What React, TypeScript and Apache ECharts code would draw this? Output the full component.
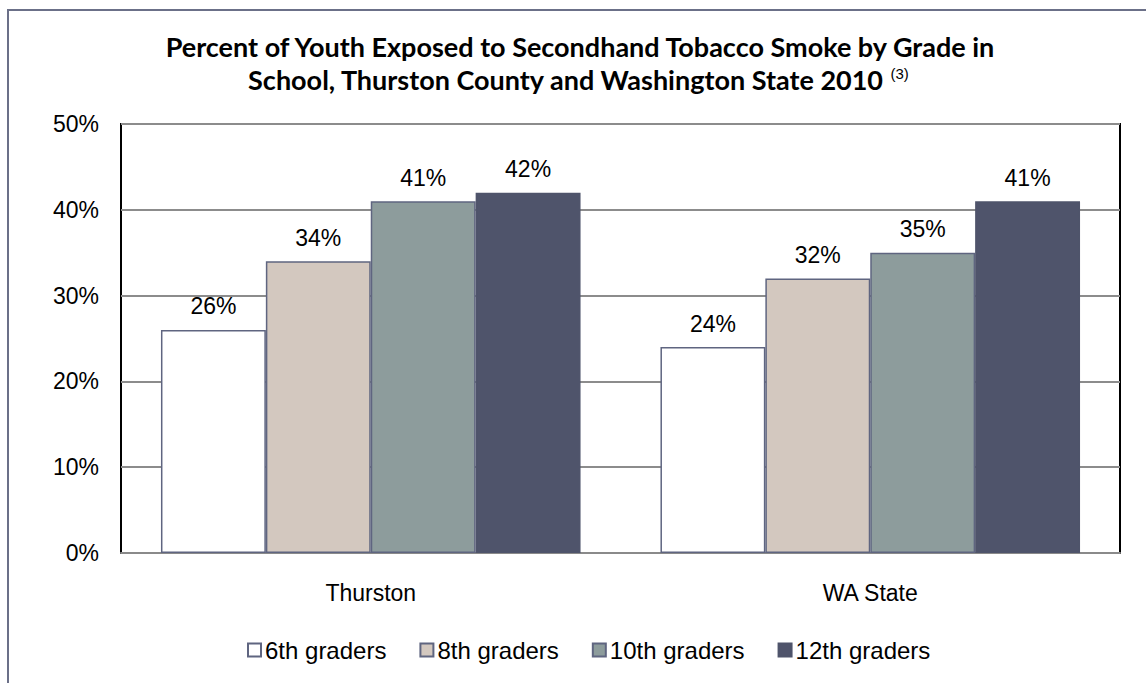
import React, { useEffect, useRef } from "react";
import * as echarts from "echarts";

const categories = ["Thurston", "WA State"];
const seriesNames = ["6th graders", "8th graders", "10th graders", "12th graders"];
const grade6 = [26, 24];
const grade8 = [34, 32];
const grade10 = [41, 35];
const grade12 = [42, 41];
const yTicks = { min: 0, max: 50, interval: 10 };
const titleLine1 = "Percent of Youth Exposed to Secondhand Tobacco Smoke by Grade in";
const titleLine2 = "School, Thurston County and Washington State 2010 ";
const titleRef = "(3)";

const colors = ["#ffffff", "#d3c8bf", "#8d9c9c", "#4f546b"];
const borderCol = "#5f6580";

export default function App() {
  const ref = useRef<HTMLDivElement>(null);
  useEffect(() => {
    if (!ref.current) return;
    const chart = echarts.init(ref.current, null, { renderer: "svg" });
    const values = [grade6, grade8, grade10, grade12];
    const font = "'Liberation Sans', Arial, sans-serif";
    chart.setOption({
      animation: false,
      backgroundColor: "#ffffff",
      graphic: [
        {
          type: "rect",
          shape: { x: 8, y: 10, width: 1200, height: 800 },
          style: { fill: "none", stroke: "#6b7088", lineWidth: 2 },
          silent: true,
        },
        {
          type: "text",
          x: 580,
          y: 46,
          style: {
            text: titleLine1,
            font: "bold 27px Lato, sans-serif",
            fill: "#000",
            textAlign: "center",
            textVerticalAlign: "middle",
          },
        },
        {
          type: "text",
          x: 578,
          y: 79,
          style: {
            text: "{b|" + titleLine2 + "}{s|" + titleRef + "}",
            textAlign: "center",
            textVerticalAlign: "middle",
            rich: {
              b: { fill: "#000", fontSize: 27, fontWeight: "bold", fontFamily: "Lato, sans-serif" },
              s: { fontSize: 15, fontFamily: font, fill: "#000", verticalAlign: "top", padding: [0, 0, 12, 0] },
            },
          },
        },
      ],
      grid: {
        left: 121,
        right: 26,
        top: 124,
        bottom: 130,
        show: true,
        borderColor: "#000",
        borderWidth: 2,
        containLabel: false,
      },
      legend: {
        data: seriesNames,
        bottom: 16,
        left: 242,
        itemWidth: 13,
        itemHeight: 13,
        itemGap: 33,
        icon: "rect",
        textStyle: { fontFamily: font, fontSize: 24, color: "#000", padding: [0, 0, 0, -1] },
      },
      xAxis: {
        type: "category",
        data: categories,
        axisLine: { show: true, lineStyle: { color: "#8a8a8a", width: 2 } },
        axisTick: { show: false },
        axisLabel: { fontFamily: font, fontSize: 23, color: "#000", margin: 28 },
      },
      yAxis: {
        type: "value",
        min: yTicks.min,
        max: yTicks.max,
        interval: yTicks.interval,
        axisLine: { show: false },
        axisTick: { show: false },
        axisLabel: { fontFamily: font, fontSize: 23, color: "#000", margin: 22, formatter: "{value}%" },
        splitLine: { show: true, lineStyle: { color: "#8c8c8c", width: 2 } },
      },
      series: seriesNames.map((name, i) => ({
        name,
        type: "bar",
        data: values[i],
        barGap: "0%",
        barCategoryGap: "16%",
        itemStyle: {
          color: colors[i],
          borderColor: i === 3 ? colors[3] : borderCol,
          borderWidth: 1.5,
        },
        label: {
          show: true,
          position: "top",
          distance: 12,
          formatter: "{c}%",
          fontFamily: font,
          fontSize: 23,
          color: "#000",
        },
      })),
    });
    return () => chart.dispose();
  }, []);
  return (
    <div
      ref={ref}
      style={{ position: "absolute", left: 0, top: 0, width: 1146, height: 683 }}
    />
  );
}
